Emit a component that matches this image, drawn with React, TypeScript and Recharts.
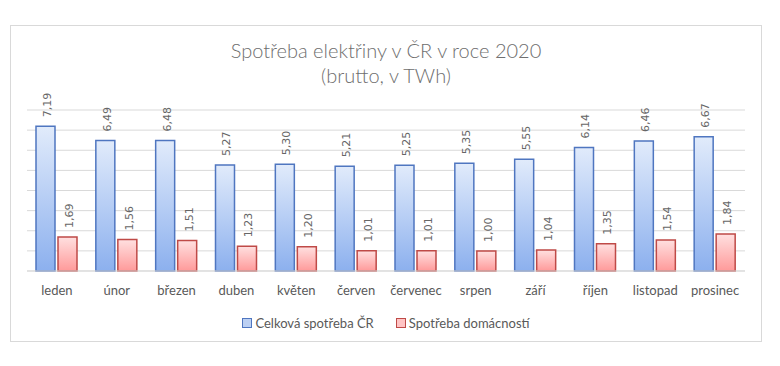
import React from 'react';
import { BarChart, Bar, XAxis, YAxis, CartesianGrid, Legend, LabelList } from 'recharts';

const months = ['leden', 'únor', 'březen', 'duben', 'květen', 'červen', 'červenec', 'srpen', 'září', 'říjen', 'listopad', 'prosinec'];
const celkova = [7.19, 6.49, 6.48, 5.27, 5.3, 5.21, 5.25, 5.35, 5.55, 6.14, 6.46, 6.67];
const domacnosti = [1.69, 1.56, 1.51, 1.23, 1.2, 1.01, 1.01, 1.0, 1.04, 1.35, 1.54, 1.84];
const yTicks = [0, 1, 2, 3, 4, 5, 6, 7, 8];

const data = months.map((m, i) => ({ month: m, celkova: celkova[i], domacnosti: domacnosti[i] }));

const TEXT = '#595959';
const FONT = 'Lato, "Open Sans", sans-serif';

const fmt = (v: number) => v.toFixed(2).replace('.', ',');

const renderLabel = (props: any) => {
  const { x, y, width, value } = props;
  const cx = Number(x) + Number(width) / 2 + 2;
  const ty = Number(y) - 9;
  return (
    <text
      x={cx}
      y={ty}
      transform={`rotate(-90 ${cx} ${ty})`}
      textAnchor="start"
      dominantBaseline="central"
      fill="#666"
      fontSize={11}
      fontFamily='"DejaVu Sans", sans-serif'
    >
      {fmt(Number(value))}
    </text>
  );
};

const legendItems = [
  { name: 'Celková spotřeba ČR', fill: '#bcd0f3', stroke: '#4f76c0' },
  { name: 'Spotřeba domácností', fill: '#ffc4c4', stroke: '#bf4a47' },
];

const renderLegend = () => (
  <div style={{ display: 'flex', justifyContent: 'center', gap: 22, fontFamily: FONT, fontSize: 13, color: TEXT }}>
    {legendItems.map((it) => (
      <div key={it.name} style={{ display: 'flex', alignItems: 'center', gap: 3 }}>
        <span style={{ width: 8, height: 8, background: it.fill, border: `1px solid ${it.stroke}`, display: 'inline-block' }} />
        <span>{it.name}</span>
      </div>
    ))}
  </div>
);

export default function App() {
  return (
    <div style={{
      position: 'relative', marginLeft: 2, marginTop: 17, width: 750, height: 315,
      border: '1px solid #d9d9d9', background: '#fff',
    }}>
      <div style={{
        position: 'absolute', top: 12, left: 0, width: 750, textAlign: 'center',
        fontFamily: FONT, fontSize: 20, fontWeight: 300, lineHeight: '25px', color: '#6e6e6e',
      }}>
        Spotřeba elektřiny v ČR v roce 2020<br />(brutto, v TWh)
      </div>
      <BarChart
        width={750}
        height={315}
        data={data}
        margin={{ top: 84, right: 16, left: 16, bottom: 10 }}
        barCategoryGap={9}
        barGap={3}
      >
        <defs>
          <linearGradient id="gBlue" x1="0" y1="0" x2="0" y2="1">
            <stop offset="0%" stopColor="#e1ebfb" />
            <stop offset="100%" stopColor="#8cb0ee" />
          </linearGradient>
          <linearGradient id="gRed" x1="0" y1="0" x2="0" y2="1">
            <stop offset="0%" stopColor="#ffe0e0" />
            <stop offset="100%" stopColor="#ff9a9a" />
          </linearGradient>
        </defs>
        <CartesianGrid vertical={false} stroke="#d9d9d9" />
        <XAxis
          dataKey="month"
          height={44}
          tickLine={false}
          axisLine={{ stroke: '#d9d9d9' }}
          tickMargin={9}
          tick={{ fill: TEXT, fontSize: 13, fontFamily: FONT }}
          interval={0}
        />
        <YAxis hide domain={[0, 8]} ticks={yTicks} interval={0} />
        <Legend verticalAlign="bottom" content={renderLegend} />
        <Bar dataKey="celkova" name="Celková spotřeba ČR" fill="url(#gBlue)" stroke="#4f76c0" strokeWidth={1.5} isAnimationActive={false}>
          <LabelList dataKey="celkova" content={renderLabel} />
        </Bar>
        <Bar dataKey="domacnosti" name="Spotřeba domácností" fill="url(#gRed)" stroke="#bf4a47" strokeWidth={1.5} isAnimationActive={false}>
          <LabelList dataKey="domacnosti" content={renderLabel} />
        </Bar>
      </BarChart>
    </div>
  );
}
